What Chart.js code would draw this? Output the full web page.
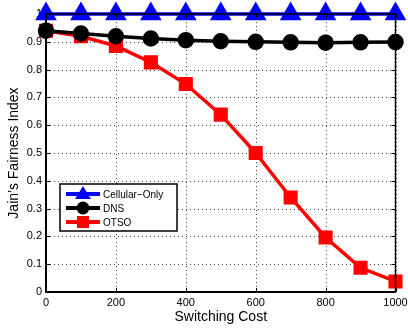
<!DOCTYPE html>
<html>
<head>
<meta charset="utf-8">
<script src="https://cdn.jsdelivr.net/npm/chart.js@4/dist/chart.umd.min.js"></script>
<style>
  html, body { margin: 0; padding: 0; background: #fff; }
  #wrap { width: 408px; height: 328px; position: relative; }
</style>
</head>
<body>
<div id="wrap"><canvas id="c"></canvas></div>
<script>
// Daten
var switchingCost = [0, 100, 200, 300, 400, 500, 600, 700, 800, 900, 1000];
var cellularOnly = [1, 1, 1, 1, 1, 1, 1, 1, 1, 1, 1];
var dns = [0.94, 0.93, 0.92, 0.912, 0.906, 0.902, 0.9, 0.898, 0.897, 0.898, 0.899];
var otso = [0.94, 0.92, 0.885, 0.826, 0.748, 0.638, 0.5, 0.34, 0.196, 0.087, 0.038];
var xTicks = [0, 200, 400, 600, 800, 1000];
var yTicks = [0, 0.1, 0.2, 0.3, 0.4, 0.5, 0.6, 0.7, 0.8, 0.9, 1];

var FONT = 'Liberation Sans, Arial, Helvetica, sans-serif';

function pts(ys) { return switchingCost.map(function (x, i) { return { x: x, y: ys[i] }; }); }

// gepunktetes Gitter unter den Daten
var dottedGrid = {
  id: 'dottedGrid',
  beforeDatasetsDraw: function (chart) {
    var ctx = chart.ctx, a = chart.chartArea, xs = chart.scales.x, ys = chart.scales.y;
    ctx.save();
    ctx.fillStyle = '#444';
    xTicks.forEach(function (v) {
      var px = Math.round(xs.getPixelForValue(v));
      for (var y = a.top; y < a.bottom; y += 4) ctx.fillRect(px, y, 1, 1);
    });
    yTicks.forEach(function (v) {
      var py = Math.round(ys.getPixelForValue(v));
      for (var x = a.left; x < a.right; x += 4) ctx.fillRect(x, py, 1, 1);
    });
    ctx.restore();
  }
};

// Rahmen, Innen-Ticks und Legende im MATLAB-Stil
var matlabBox = {
  id: 'matlabBox',
  afterDatasetsDraw: function (chart) {
    var ctx = chart.ctx, a = chart.chartArea, xs = chart.scales.x, ys = chart.scales.y;
    ctx.save();
    ctx.strokeStyle = '#000'; ctx.lineWidth = 1;
    ctx.beginPath();
    xTicks.forEach(function (v) {
      var px = Math.round(xs.getPixelForValue(v)) + 0.5;
      ctx.moveTo(px, a.bottom); ctx.lineTo(px, a.bottom - 4);
      ctx.moveTo(px, a.top); ctx.lineTo(px, a.top + 4);
    });
    yTicks.forEach(function (v) {
      var py = Math.round(ys.getPixelForValue(v)) + 0.5;
      ctx.moveTo(a.left, py); ctx.lineTo(a.left + 4, py);
      ctx.moveTo(a.right, py); ctx.lineTo(a.right - 4, py);
    });
    ctx.stroke();
    ctx.lineWidth = 1.5;
    ctx.strokeRect(a.left, a.top, a.right - a.left, a.bottom - a.top);
    ctx.lineWidth = 2;
    ctx.beginPath();
    ctx.moveTo(a.left, a.top); ctx.lineTo(a.left, a.bottom); ctx.lineTo(a.right, a.bottom);
    ctx.stroke();

    // Legende
    var lx = 60, ly = 184, lw = 117, lh = 47;
    ctx.fillStyle = '#fff';
    ctx.fillRect(lx, ly, lw, lh);
    ctx.lineWidth = 1.5; ctx.strokeStyle = '#000';
    ctx.strokeRect(lx, ly, lw, lh);
    ctx.font = '10px ' + FONT; ctx.textBaseline = 'middle'; ctx.textAlign = 'left';
    chart.data.datasets.forEach(function (ds, i) {
      var cy = ly + 10 + i * 14;
      ctx.strokeStyle = ds.borderColor; ctx.lineWidth = 4;
      ctx.beginPath(); ctx.moveTo(lx + 6, cy); ctx.lineTo(lx + 40, cy); ctx.stroke();
      ctx.fillStyle = ds.pointBackgroundColor;
      var mx = lx + 23;
      ctx.beginPath();
      if (ds.pointStyle === 'triangle') {
        ctx.moveTo(mx, cy - 8); ctx.lineTo(mx + 8, cy + 5); ctx.lineTo(mx - 8, cy + 5); ctx.closePath();
      } else if (ds.pointStyle === 'rect') {
        ctx.rect(mx - 6, cy - 6, 12, 12);
      } else {
        ctx.arc(mx, cy, 6.5, 0, Math.PI * 2);
      }
      ctx.fill();
      ctx.fillStyle = '#000';
      ctx.fillText(ds.label, lx + 43, cy + 1);
    });
    ctx.restore();
  }
};

new Chart(document.getElementById('c').getContext('2d'), {
  type: 'line',
  data: {
    datasets: [
      { label: 'Cellular\u2212Only', data: pts(cellularOnly), borderColor: '#0000ff', backgroundColor: '#0000ff',
        pointBackgroundColor: '#0000ff', pointBorderColor: '#0000ff', pointStyle: 'triangle', pointRadius: 9, borderWidth: 3.5, clip: false },
      { label: 'DNS', data: pts(dns), borderColor: '#000000', backgroundColor: '#000000',
        pointBackgroundColor: '#000000', pointBorderColor: '#000000', pointStyle: 'circle', pointRadius: 6.5, borderWidth: 3.5, clip: false },
      { label: 'OTSO', data: pts(otso), borderColor: '#ff0000', backgroundColor: '#ff0000',
        pointBackgroundColor: '#ff0000', pointBorderColor: '#ff0000', pointStyle: 'rect', pointRadius: 7.5, borderWidth: 3.5, clip: false },
    ],
  },
  options: {
    responsive: true, maintainAspectRatio: false, animation: false,
    layout: { padding: { top: 14, right: 11, left: 6, bottom: 0 } },
    plugins: { legend: { display: false }, tooltip: { enabled: false } },
    elements: { line: { tension: 0 }, point: { borderWidth: 1 } },
    scales: {
      x: {
        type: 'linear', min: 0, max: 1000,
        afterBuildTicks: function (s) { s.ticks = xTicks.map(function (v) { return { value: v }; }); },
        afterFit: function (s) { s.height = 36; s.paddingRight = 0; s.paddingLeft = 0; },
        grid: { display: false, drawTicks: false },
        border: { display: false },
        ticks: { color: '#000', font: { family: FONT, size: 11 }, padding: 4, maxRotation: 0,
          callback: function (v) { return String(v); } },
        title: { display: true, text: 'Switching Cost', color: '#000', font: { family: FONT, size: 14 }, padding: { top: 0, bottom: 2 } },
      },
      y: {
        type: 'linear', min: 0, max: 1,
        afterBuildTicks: function (s) { s.ticks = yTicks.map(function (v) { return { value: v }; }); },
        afterFit: function (s) { s.width = 40; },
        grid: { display: false, drawTicks: false },
        border: { display: false },
        ticks: { color: '#000', font: { family: FONT, size: 11 }, padding: 4,
          callback: function (v) { return v === 0 ? '0' : v === 1 ? '1' : v.toFixed(1); } },
        title: { display: true, text: 'Jain\u2019s Fairness Index', color: '#000', font: { family: FONT, size: 14 }, padding: { top: 0, bottom: 0 } },
      },
    },
  },
  plugins: [dottedGrid, matlabBox],
});
</script>
</body>
</html>
